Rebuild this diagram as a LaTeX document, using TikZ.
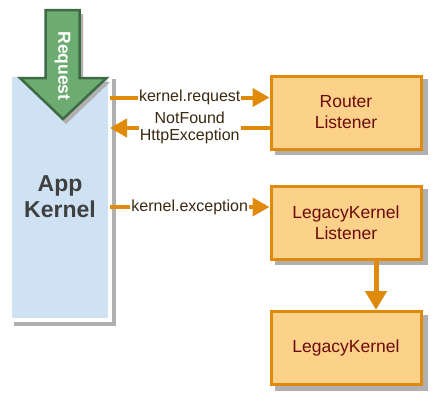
\documentclass[tikz,border=0pt]{standalone}
\usepackage{fontspec}
\setmainfont{Liberation Sans}
\usetikzlibrary{arrows.meta}
\definecolor{kblue}{HTML}{CFE2F3}
\definecolor{kgreen}{HTML}{6DAC70}
\definecolor{kdgreen}{HTML}{3E6B45}
\definecolor{korange}{HTML}{E08A0B}
\definecolor{kfill}{HTML}{FCD18A}
\definecolor{kred}{HTML}{6E0A0A}
\definecolor{klabel}{HTML}{3A2A10}
\definecolor{kshadow}{HTML}{B0B0B0}
\definecolor{kdark}{HTML}{404040}
\tikzset{
  box/.style={draw=korange, line width=3pt, fill=kfill, minimum width=150pt, minimum height=73pt,
    text=kred, font=\fontsize{17.5}{21}\selectfont, align=center, inner sep=0pt},
  shadowbox/.style={fill=kshadow, draw=none, minimum width=153pt, minimum height=76pt, inner sep=0pt},
  conn/.style={draw=korange, line width=4pt, -{Triangle[length=17pt,width=18pt]}},
  lbl/.style={fill=white, text=klabel, font=\fontsize{16}{17}\selectfont, inner sep=1pt, align=center}
}
\begin{document}
\begin{tikzpicture}[x=1pt,y=-1pt]
\useasboundingbox (0,0) rectangle (445,405);
% App Kernel
\fill[kshadow] (14,79) rectangle (116,326);
\fill[white] (8,73) rectangle (112,322);
\fill[kblue] (12,77) rectangle (108,318);
\node[text=kdark, font=\bfseries\fontsize{23}{26}\selectfont, align=center] (app) at (60,197) {App\\Kernel};
% Request arrow
\fill[kshadow] (49,14) -- (83,14) -- (83,82) -- (110,82) -- (66,124) -- (23,82) -- (49,82) -- cycle;
\draw[kdgreen, fill=kgreen, line width=2.5pt, line join=miter] (45.5,10) -- (79.5,10) -- (79.5,78) -- (106.5,78) -- (63,119) -- (20,78) -- (45.5,78) -- cycle;
\node[rotate=-90, text=white, font=\bfseries\fontsize{17.5}{20}\selectfont] (req) at (62.5,66) {Request};
% boxes
\node[shadowbox] at (351,117) {};
\node[box] (router) at (346,112.5) {Router\\Listener};
\node[shadowbox] at (351,227) {};
\node[box] (lkl) at (346,222.5) {LegacyKernel\\Listener};
\node[shadowbox] at (351,353) {};
\node[box] (lk) at (346,348) {LegacyKernel};
% connectors
\coordinate (s1) at (110,97.5);
\coordinate (e2) at (110,128);
\coordinate (s3) at (110,207);
\coordinate (vx) at (376,0);
\draw[conn] (s1) -- (s1 -| router.west) node[lbl, pos=0.5] (l1) {kernel.request};
\draw[conn] (router.west |- e2) -- (e2) node[lbl, pos=0.5] (l2) {NotFound\\HttpException};
\draw[conn] (s3) -- (s3 -| lkl.west) node[lbl, pos=0.5] (l3) {kernel.exception};
\draw[draw=korange, line width=5pt, -{Triangle[length=19pt,width=21pt]}] (vx |- lkl.south) -- (vx |- lk.north);
\end{tikzpicture}
\end{document}
